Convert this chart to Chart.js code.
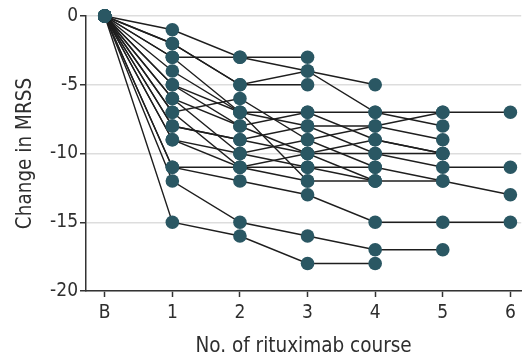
<!DOCTYPE html>
<html>
<head>
    <title>Change in MRSS by rituximab course</title>
    <script src="https://cdn.jsdelivr.net/npm/chart.js"></script>
    <style>
        html, body { margin: 0; padding: 0; background: #ffffff; }
        .chart-box { width: 528px; height: 362px; }
    </style>
</head>
<body>
    <div class="chart-box">
        <canvas id="mrssChart" width="528" height="362"></canvas>
    </div>

    <script>
        // course labels (B = baseline)
        const courses = ['B', '1', '2', '3', '4', '5', '6'];
        const yTicks = [0, -5, -10, -15, -20];

        // change in MRSS per patient, one value per course
        const patientA = [0, -1, -3, -3];
        const patientB = [0, -3, -3, -4, -5];
        const patientC = [0, -2, -5, -4, -7, -8];
        const patientD = [0, -2, -5, -5];
        const patientE = [0, -4, -7, -7, -7, -7, -7];
        const patientF = [0, -5, -7, -8, -8, -9];
        const patientG = [0, -6, -8, -7, -9, -10];
        const patientH = [0, -7, -6, -9, -8, -7];
        const patientI = [0, -8, -9, -10, -10, -11, -11];
        const patientJ = [0, -9, -10, -11, -11, -12, -13];
        const patientK = [0, -7, -11, -12, -12, -12];
        const patientL = [0, -11, -11, -11, -12];
        const patientM = [0, -12, -15, -16, -17, -17];
        const patientN = [0, -15, -16, -18, -18];
        const patientO = [0, -11, -12, -13, -15, -15, -15];
        const patientP = [0, -5, -8, -10, -9, -10];
        const patientQ = [0, -6, -10, -9, -11];
        const patientR = [0, -8, -9, -8, -10, -10];
        const patientS = [0, -3, -7, -12];
        const patientT = [0, -9, -11, -10, -12];

        const patients = [patientA, patientB, patientC, patientD, patientE, patientF, patientG,
            patientH, patientI, patientJ, patientK, patientL, patientM, patientN, patientO,
            patientP, patientQ, patientR, patientS, patientT];

        const toPoints = vals => vals.map((v, i) => ({ x: i, y: v }));
        const dotColor = '#2a5763';
        const textColor = '#2e2e2e';
        const fontFamily = "'Liberation Sans Narrow', 'DejaVu Sans Condensed', sans-serif";

        // lines first (drawn underneath), dots on top
        const lineSets = patients.map(p => ({
            data: toPoints(p),
            showLine: true,
            borderColor: '#1e1e1e',
            borderWidth: 1.4,
            pointRadius: 0,
            clip: false,
            order: 2
        }));
        const dotSets = patients.map(p => ({
            data: toPoints(p),
            showLine: false,
            pointRadius: 6.8,
            pointBackgroundColor: dotColor,
            pointBorderColor: dotColor,
            pointBorderWidth: 0,
            clip: false,
            order: 1
        }));

        const ctx = document.getElementById('mrssChart').getContext('2d');
        const chart = new Chart(ctx, {
            type: 'scatter',
            data: { datasets: lineSets.concat(dotSets) },
            options: {
                responsive: false,
                animation: false,
                layout: { padding: { top: 16, right: 0, bottom: 0, left: 0 } },
                plugins: {
                    legend: { display: false },
                    tooltip: { enabled: false }
                },
                scales: {
                    x: {
                        type: 'linear',
                        min: -0.277,
                        max: 6.16,
                        afterBuildTicks: axis => {
                            axis.ticks = courses.map((c, i) => ({ value: i }));
                        },
                        afterFit: axis => { axis.height = 71; },
                        grid: {
                            drawOnChartArea: false,
                            tickLength: 6,
                            tickColor: '#333333',
                            tickWidth: 1.5
                        },
                        border: { color: '#333333', width: 1.5 },
                        ticks: {
                            padding: 5,
                            color: textColor,
                            font: { family: fontFamily, size: 19 },
                            callback: v => courses[v]
                        },
                        title: {
                            display: true,
                            text: 'No. of rituximab course',
                            color: textColor,
                            font: { family: fontFamily, size: 20.5 },
                            padding: { top: 0, bottom: 3 }
                        }
                    },
                    y: {
                        min: -20,
                        max: 0,
                        afterBuildTicks: axis => {
                            axis.ticks = yTicks.map(v => ({ value: v }));
                        },
                        afterFit: axis => { axis.width = 86; },
                        grid: {
                            color: '#dddddd',
                            lineWidth: 1.5,
                            tickLength: 6,
                            tickColor: '#333333',
                            tickWidth: 1.5
                        },
                        border: { color: '#333333', width: 1.5 },
                        ticks: {
                            padding: 2,
                            color: textColor,
                            font: { family: fontFamily, size: 19 },
                            callback: v => String(v).replace('−', '-')
                        },
                        title: {
                            display: true,
                            text: 'Change in MRSS',
                            color: textColor,
                            font: { family: fontFamily, size: 20.5 },
                            padding: { top: 13, bottom: 0 }
                        }
                    }
                }
            }
        });
    </script>
</body>
</html>
